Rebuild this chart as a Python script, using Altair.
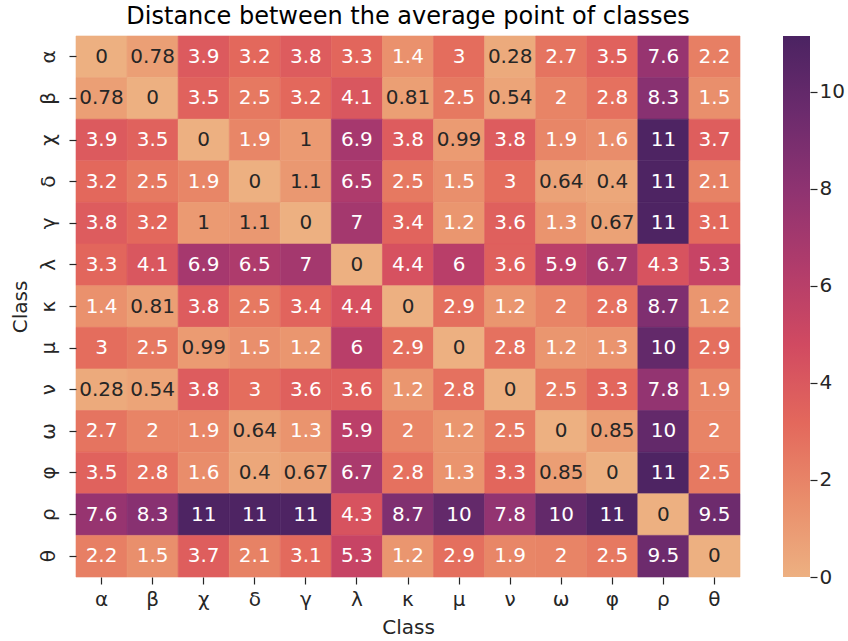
import altair as alt
import pandas as pd

# Class labels, in row/column order
classes = ["α", "β", "χ", "δ", "γ", "λ", "κ", "μ", "ν", "ω", "φ", "ρ", "θ"]

# Distance from each class's average point to every other class's average point
dist_alpha = [0, 0.78, 3.9, 3.2, 3.8, 3.3, 1.4, 3, 0.28, 2.7, 3.5, 7.6, 2.2]
dist_beta = [0.78, 0, 3.5, 2.5, 3.2, 4.1, 0.81, 2.5, 0.54, 2, 2.8, 8.3, 1.5]
dist_chi = [3.9, 3.5, 0, 1.9, 1, 6.9, 3.8, 0.99, 3.8, 1.9, 1.6, 11, 3.7]
dist_delta = [3.2, 2.5, 1.9, 0, 1.1, 6.5, 2.5, 1.5, 3, 0.64, 0.4, 11, 2.1]
dist_gamma = [3.8, 3.2, 1, 1.1, 0, 7, 3.4, 1.2, 3.6, 1.3, 0.67, 11, 3.1]
dist_lambda = [3.3, 4.1, 6.9, 6.5, 7, 0, 4.4, 6, 3.6, 5.9, 6.7, 4.3, 5.3]
dist_kappa = [1.4, 0.81, 3.8, 2.5, 3.4, 4.4, 0, 2.9, 1.2, 2, 2.8, 8.7, 1.2]
dist_mu = [3, 2.5, 0.99, 1.5, 1.2, 6, 2.9, 0, 2.8, 1.2, 1.3, 10, 2.9]
dist_nu = [0.28, 0.54, 3.8, 3, 3.6, 3.6, 1.2, 2.8, 0, 2.5, 3.3, 7.8, 1.9]
dist_omega = [2.7, 2, 1.9, 0.64, 1.3, 5.9, 2, 1.2, 2.5, 0, 0.85, 10, 2]
dist_phi = [3.5, 2.8, 1.6, 0.4, 0.67, 6.7, 2.8, 1.3, 3.3, 0.85, 0, 11, 2.5]
dist_rho = [7.6, 8.3, 11, 11, 11, 4.3, 8.7, 10, 7.8, 10, 11, 0, 9.5]
dist_theta = [2.2, 1.5, 3.7, 2.1, 3.1, 5.3, 1.2, 2.9, 1.9, 2, 2.5, 9.5, 0]

rows = [dist_alpha, dist_beta, dist_chi, dist_delta, dist_gamma, dist_lambda,
        dist_kappa, dist_mu, dist_nu, dist_omega, dist_phi, dist_rho, dist_theta]

# Colour bar range and ticks
cbar_max = 11.15
cbar_ticks = [0, 2, 4, 6, 8, 10]

# "flare" colormap anchors (fraction of the range, colour)
flare_stops = [
    (0.0, "#edb081"), (1 / 7, "#e98d6b"), (2 / 7, "#e3685c"), (3 / 7, "#d14a61"),
    (4 / 7, "#b13c6b"), (5 / 7, "#8f3371"), (6 / 7, "#6c2b6d"), (1.0, "#4b2362"),
]

records = []
for r, row in zip(classes, rows):
    for c, v in zip(classes, row):
        records.append({"row": r, "col": c, "value": v, "label": f"{v:g}"})
df = pd.DataFrame(records)

FONT = "DejaVu Sans"
TXT = 20
INK = "#262626"
W, H = 664, 541

color_scale = alt.Scale(
    domain=[f * cbar_max for f, _ in flare_stops],
    range=[c for _, c in flare_stops],
)

x_enc = alt.X("col:N", sort=classes, title="Class",
              scale=alt.Scale(paddingInner=0, paddingOuter=0),
              axis=alt.Axis(labelAngle=0, labelFontSize=TXT, titleFontSize=TXT,
                            labelFont=FONT, titleFont=FONT, domain=False,
                            tickSize=7, tickWidth=1.2, tickColor=INK,
                            labelPadding=5, titlePadding=8, labelColor=INK,
                            titleColor=INK, titleFontWeight="normal"))
y_enc = alt.Y("row:N", sort=classes, title="Class",
              scale=alt.Scale(paddingInner=0, paddingOuter=0),
              axis=alt.Axis(labelAngle=-90, labelAlign="center", labelBaseline="bottom",
                            labelFontSize=TXT, titleFontSize=TXT,
                            labelFont=FONT, titleFont=FONT, domain=False,
                            tickSize=7, tickWidth=1.2, tickColor=INK,
                            labelPadding=11, titlePadding=8, labelColor=INK,
                            titleColor=INK, titleFontWeight="normal"))

# Cells are stroked in their own colour so neighbouring cells join without seams
cells = alt.Chart(df).mark_rect(strokeWidth=0.6).encode(
    x=x_enc, y=y_enc,
    color=alt.Color("value:Q", scale=color_scale, legend=None),
    stroke=alt.Stroke("value:Q", scale=color_scale, legend=None),
)

labels = alt.Chart(df).mark_text(font=FONT, fontSize=TXT).encode(
    x=alt.X("col:N", sort=classes),
    y=alt.Y("row:N", sort=classes),
    text="label:N",
    color=alt.condition("datum.value < 1.15", alt.value(INK), alt.value("white")),
)

heatmap = alt.layer(cells, labels).properties(
    width=W, height=H,
    title=alt.TitleParams("Distance between the average point of classes",
                          font=FONT, fontSize=24, fontWeight="normal",
                          color="black", anchor="middle", frame="group", offset=7),
)

# Colour bar: one rect spanning the scale, filled with the colormap gradient
cbar_df = pd.DataFrame({"lo": [0.0], "hi": [cbar_max]})
gradient = {
    "gradient": "linear", "x1": 0, "y1": 1, "x2": 0, "y2": 0,
    "stops": [{"offset": f, "color": c} for f, c in flare_stops],
}
cbar = alt.Chart(cbar_df).mark_rect().encode(
    x=alt.value(0), x2=alt.value(27),
    y=alt.Y("lo:Q", scale=alt.Scale(domain=[0, cbar_max], nice=False, zero=True),
            axis=alt.Axis(orient="right", values=cbar_ticks, title=None, grid=False,
                          domain=False, tickSize=7, tickWidth=1.2, tickColor=INK,
                          labelFontSize=TXT, labelFont=FONT, labelColor=INK,
                          labelPadding=2)),
    y2="hi:Q",
    color=alt.value(gradient),
).properties(width=27, height=H)

chart = alt.hconcat(heatmap, cbar, spacing=42).properties(
    padding={"left": 10, "top": 4, "right": 2, "bottom": 0},
).configure_view(stroke=None).configure_axis(labelFont=FONT, titleFont=FONT)

chart.save("out.html", embed_options={"renderer": "svg", "actions": False})
